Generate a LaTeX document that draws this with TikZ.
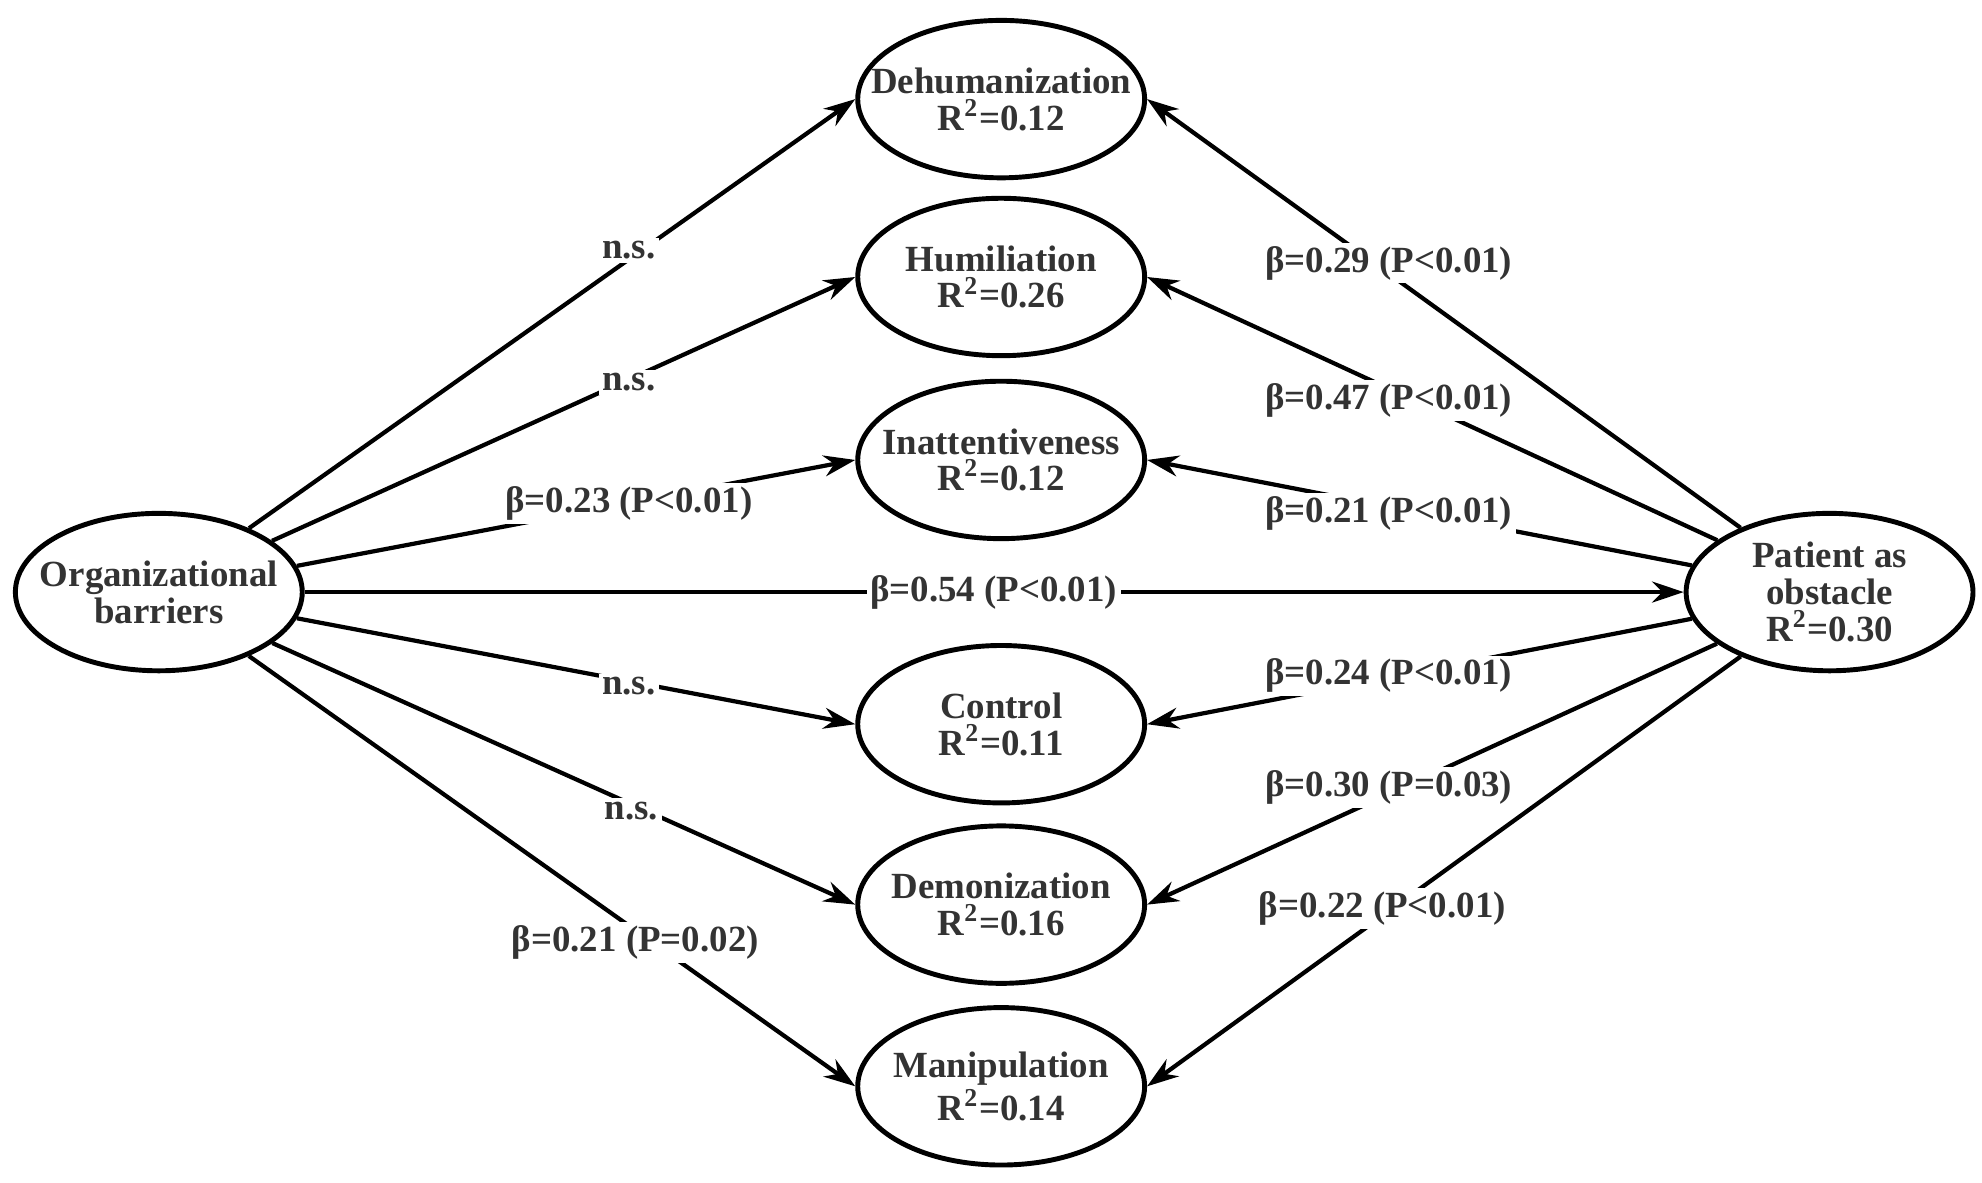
\documentclass[tikz,border=0pt]{standalone}
\usepackage{fontspec}
\setmainfont{Liberation Serif}
\usetikzlibrary{shapes.geometric,arrows.meta}
\definecolor{txt}{HTML}{333333}
\begin{document}
\begin{tikzpicture}[x=0.012705cm,y=-0.012705cm,
  el/.style={ellipse,draw=black,line width=1.4pt,minimum width=2.87cm,minimum height=1.575cm,inner sep=0pt,
    label={[align=center,font=\fontsize{10.5}{10.5}\selectfont\bfseries,text=txt]center:#1}},
  ar/.style={-{Stealth[length=9pt,width=6pt]},line width=1.2pt},
  lbl/.style={fill=white,inner sep=1pt,font=\fontsize{10.5}{12}\selectfont\bfseries,text=txt}]
\useasboundingbox (0,0) rectangle (1560,931);
\node[el={Organizational\\barriers}] (ob) at (125,466) {};
\node[el={Patient as\\obstacle\\R\textsuperscript{2}=0.30}] (po) at (1440,466) {};
\node[el={Dehumanization\\R\textsuperscript{2}=0.12}] (d1) at (788,78) {};
\node[el={Humiliation\\R\textsuperscript{2}=0.26}] (d2) at (788,218) {};
\node[el={Inattentiveness\\R\textsuperscript{2}=0.12}] (d3) at (788,362) {};
\node[el={Control\\R\textsuperscript{2}=0.11}] (d4) at (788,570) {};
\node[el={Demonization\\R\textsuperscript{2}=0.16}] (d5) at (788,712) {};
\node[el={Manipulation\\R\textsuperscript{2}=0.14}] (d6) at (788,855) {};
\foreach \n in {d1,d2,d3,d4,d5,d6}{
  \draw[ar] (ob) -- (\n.west);
  \draw[ar] (po) -- (\n.east);
}
\draw[ar] (ob) -- (po);
\node[lbl] (l1) at (495,197) {n.s.};
\node[lbl] (l2) at (495,301) {n.s.};
\node[lbl] (l3) at (495,396) {β=0.23 (P<0.01)};
\node[lbl] (l4) at (495,540) {n.s.};
\node[lbl] (l5) at (497,638) {n.s.};
\node[lbl] (l6) at (500,742) {β=0.21 (P=0.02)};
\node[lbl] (l7) at (782,466) {β=0.54 (P<0.01)};
\node[lbl] (r1) at (1093,207) {β=0.29 (P<0.01)};
\node[lbl] (r2) at (1093,315) {β=0.47 (P<0.01)};
\node[lbl] (r3) at (1093,404) {β=0.21 (P<0.01)};
\node[lbl] (r4) at (1093,532) {β=0.24 (P<0.01)};
\node[lbl] (r5) at (1093,620) {β=0.30 (P=0.03)};
\node[lbl] (r6) at (1088,715) {β=0.22 (P<0.01)};
\end{tikzpicture}
\end{document}
